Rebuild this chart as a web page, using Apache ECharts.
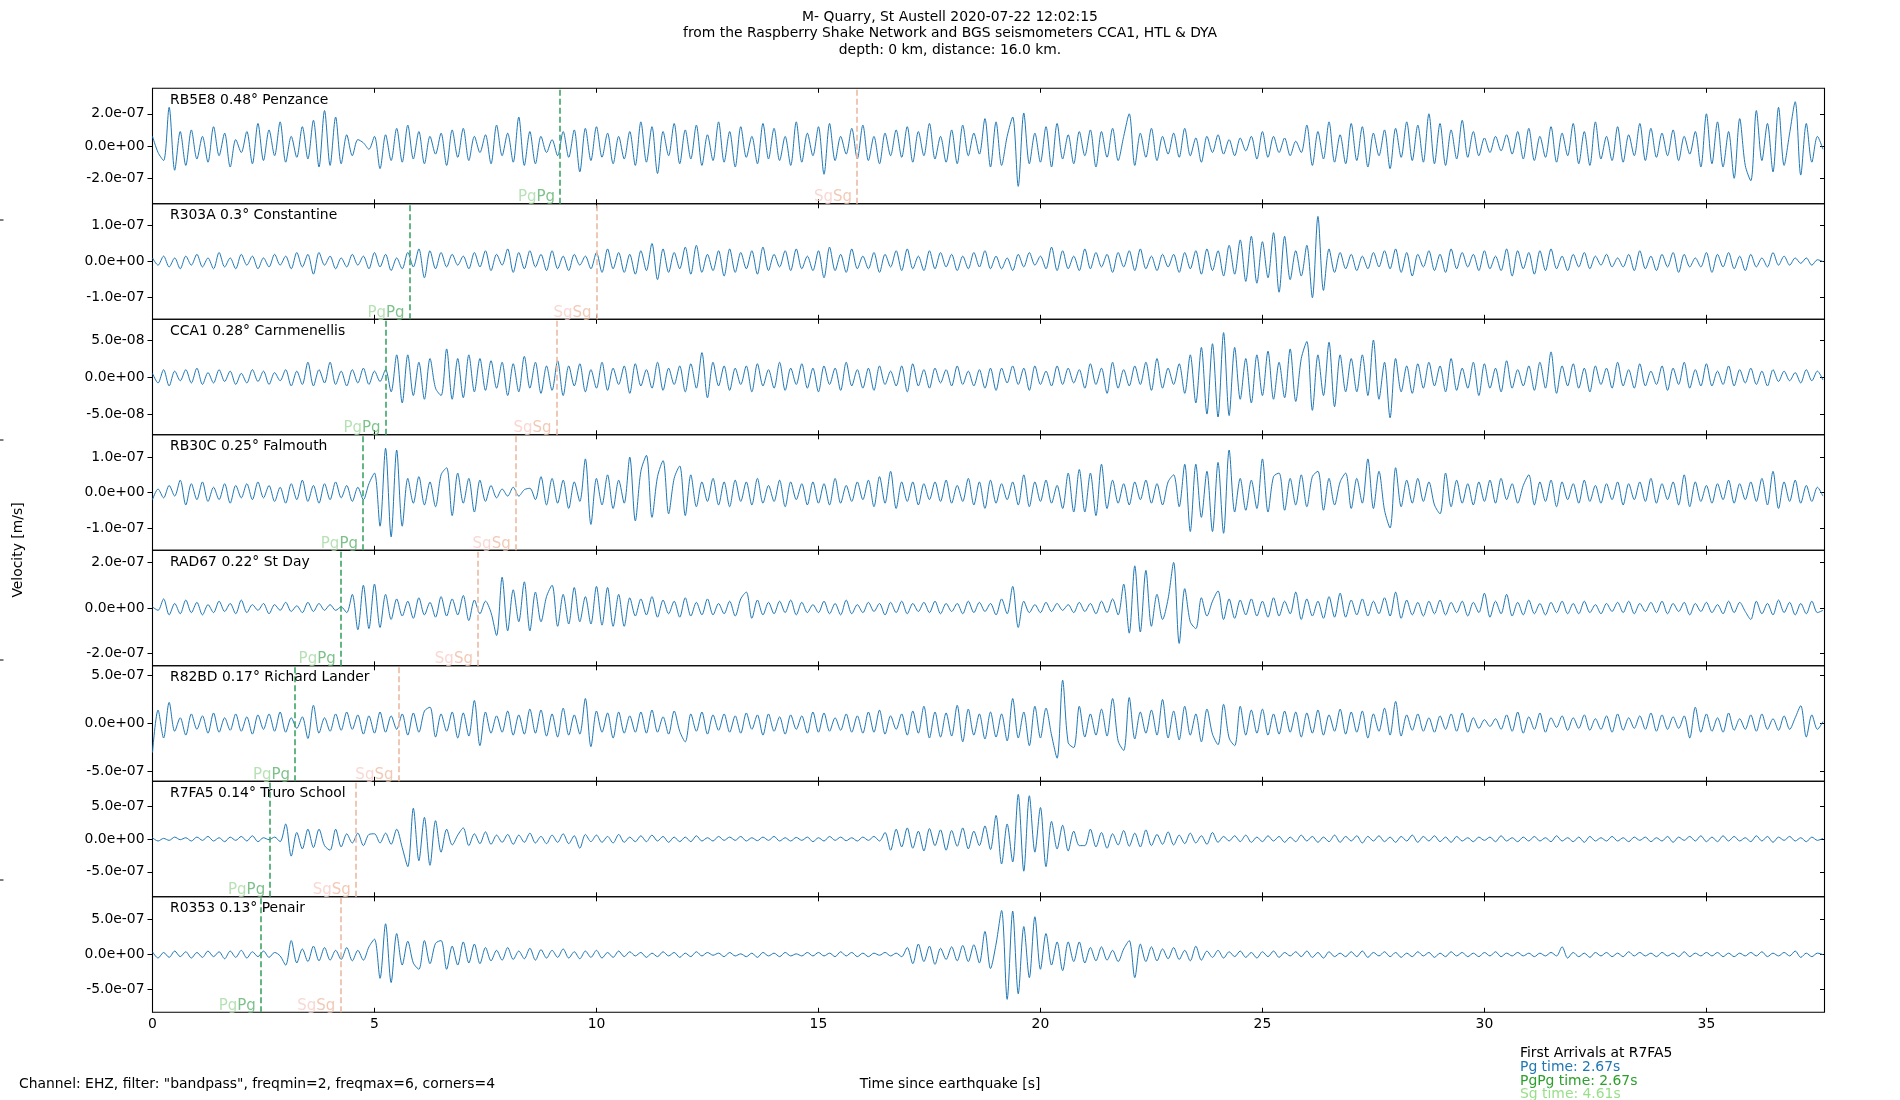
<!DOCTYPE html>
<html>
<head>
<meta charset="utf-8">
<script src="https://cdn.jsdelivr.net/npm/echarts@6/dist/echarts.min.js"></script>
<style>html,body{margin:0;padding:0;background:#fff}#c{width:1900px;height:1100px}</style>
</head>
<body>
<div id="c"></div>
<script>
// ---------- data ----------
const sampleStep = 0.125; // seconds between samples
const xMax = 37.66;
const xTicks = [0, 5, 10, 15, 20, 25, 30, 35];
const stationLabels = ['RB5E8 0.48° Penzance', 'R303A 0.3° Constantine', 'CCA1 0.28° Carnmenellis', 'RB30C 0.25° Falmouth',
  'RAD67 0.22° St Day', 'R82BD 0.17° Richard Lander', 'R7FA5 0.14° Truro School', 'R0353 0.13° Penair'];
const pgPgTimes = [9.18, 5.79, 5.25, 4.74, 4.24, 3.21, 2.65, 2.44];
const sgTimes = [15.87, 10.0, 9.10, 8.18, 7.33, 5.54, 4.58, 4.23];
const yLimits = [3.58e-7, 1.6e-7, 7.8e-8, 1.63e-7, 2.53e-7, 6.0e-7, 8.8e-7, 8.25e-7];
const yTickValues = [[-2e-7, 0, 2e-7], [-1e-7, 0, 1e-7], [-5e-8, 0, 5e-8], [-1e-7, 0, 1e-7],
  [-2e-7, 0, 2e-7], [-5e-7, 0, 5e-7], [-5e-7, 0, 5e-7], [-5e-7, 0, 5e-7]];
const valueUnit = 1e-9; // trace values below are in nm/s

const traceRB5E8 = [
60,-40,-90,240,-150,90,-120,100,
-80,60,-100,120,-60,80,-130,40,
-40,90,-110,140,-90,100,-60,150,
-100,60,-70,120,-80,160,-130,220,
-120,180,-110,70,-60,40,20,-20,
60,-140,70,-90,110,-100,130,-80,
90,-110,60,-50,80,-120,100,-70,
110,-90,60,-40,70,-110,130,-60,
80,-100,180,-120,90,-110,60,-40,
40,-60,90,-70,100,-160,110,-90,
120,-70,80,-110,60,-80,90,-120,
150,-100,120,-170,90,-60,140,-110,
100,-80,130,-120,70,-90,150,-100,
90,-130,120,-70,60,-110,140,-80,
110,-90,60,-120,150,-100,80,-60,
120,-175,140,-90,60,-50,110,-80,
130,-90,60,-110,80,-60,100,-70,
120,-100,90,-60,140,-80,60,-100,
100,-110,130,-60,80,-50,170,-130,
150,-120,60,180,-250,205,-110,80,
-100,120,-130,140,-80,70,-110,90,
-60,100,-130,90,-70,110,-90,60,
200,-120,80,-70,110,-90,60,-50,
80,-70,110,-60,50,-100,60,-40,
70,-50,40,-60,50,-30,60,-80,
90,-70,60,-40,50,-60,30,-40,
130,-120,90,-80,150,-100,70,-110,
140,-90,120,-130,80,-60,100,-140,
110,-70,150,-90,130,-100,200,-110,
140,-120,100,-80,160,-70,90,-60,
50,-40,60,-30,70,-50,90,-80,
110,-90,60,-70,120,-100,80,-60,
140,-110,90,-120,150,-80,60,-90,
120,-100,70,-60,140,-90,110,-70,
80,-60,100,-90,60,-50,90,-130,
200,-110,150,-130,90,-200,170,-120,
-215,220,-90,140,-160,240,-120,80,
275,-180,140,-100,60,-20];

const traceR303A = [
10,-10,15,-15,10,-20,15,-10,
20,-15,10,-20,25,-15,10,-20,
20,-10,15,-20,10,-15,20,-10,
15,-20,25,-15,20,-35,25,-10,
15,-20,10,-15,20,-10,15,-20,
25,-15,20,-25,10,-20,25,-15,
35,-45,30,-20,25,-15,20,-10,
15,-20,25,-15,30,-25,20,-10,
35,-30,25,-20,30,-15,20,-25,
30,-20,15,-25,20,-10,15,-20,
25,-30,35,-20,25,-30,20,-35,
30,-25,50,-50,35,-30,25,-20,
40,-35,45,-30,20,-25,30,-40,
35,-30,25,-20,30,-35,40,-25,
20,-15,30,-25,35,-20,15,-25,
30,-45,40,-25,20,-30,35,-20,
15,-20,25,-30,20,-15,30,-25,
35,-20,15,-25,30,-20,25,-15,
20,-25,15,-20,25,-15,30,-20,
15,-20,10,-25,20,-15,25,-10,
15,-20,40,-25,30,-20,15,-25,
35,-20,25,-15,20,-30,25,-15,
30,-25,35,-20,15,-25,20,-15,
20,-30,25,-20,30,-35,35,-25,
30,-40,45,-35,60,-55,70,-60,
55,-45,80,-85,70,-50,30,-40,
45,-100,125,-80,35,-30,25,-20,
20,-25,15,-20,25,-15,30,-20,
35,-30,25,-40,20,-15,30,-25,
20,-30,35,-20,25,-15,20,-25,
30,-20,15,-25,35,-40,30,-20,
25,-35,30,-25,35,-20,15,-25,
20,-15,25,-20,15,-10,20,-15,
10,-15,20,-25,30,-20,15,-25,
20,-15,25,-30,20,-15,10,-15,
25,-30,20,-15,25,-20,15,-25,
20,-15,10,-15,25,-10,15,-10,
10,-5,10,-10,5,0];

const traceCCA1 = [
5,-8,10,-12,8,-5,10,-8,
12,-10,6,-8,10,-6,8,-10,
5,-8,10,-6,8,-10,6,-5,
10,-12,8,-10,20,-12,10,-8,
20,-10,8,-12,10,-8,12,-10,
8,-6,10,-20,30,-35,30,-25,
20,-30,25,-15,-25,38,-30,25,
-28,30,-20,25,-18,22,-15,20,
-25,18,-20,28,-15,20,-22,15,
-18,22,-25,15,-12,18,-20,10,
-15,20,-18,12,-10,15,-22,18,
-12,10,-15,20,-18,12,-10,15,
-20,18,-15,33,-28,20,-12,15,
-18,12,-10,15,-20,18,-12,10,
-15,20,-18,12,-10,18,-15,12,
-20,15,-10,12,-18,20,-12,10,
-15,12,-18,15,-10,8,-12,15,
-20,18,-12,10,-15,12,-8,10,
-12,15,-10,8,-12,10,-15,12,
-18,12,-8,15,-10,12,-18,15,
-10,8,-12,15,-10,12,-8,10,
-15,18,-10,12,-22,20,-15,10,
-12,15,-10,20,-18,25,-15,12,
-10,18,-22,30,-35,40,-50,45,
-54,60,-52,40,-30,25,-35,30,
-25,35,-30,20,-28,38,-33,25,
48,-45,30,-25,47,-40,30,-20,
25,-20,30,-25,50,-30,20,-55,
25,-20,15,-22,18,-15,20,-12,
15,-20,25,-18,12,-15,20,-25,
18,-15,12,-20,22,-15,10,-12,
15,-18,20,-15,34,-22,15,-12,
18,-15,12,-20,15,-10,12,-15,
20,-12,10,-15,18,-12,8,-10,
15,-18,12,-10,20,-15,10,-12,
18,-12,8,-10,15,-12,10,-8,
12,-10,8,-12,10,-6,8,-5,
6,-8,10,-5,8,-4];

const traceRB30C = [
-20,10,-15,20,-10,35,-35,25,
-20,30,-25,15,-20,25,-30,20,
-15,25,-20,30,-15,20,-25,15,
-30,25,-20,35,-25,20,-30,25,
-20,30,-15,20,-25,15,-20,25,
55,-95,125,-125,120,-95,40,-30,
45,-35,30,-40,50,70,-65,55,
-30,40,-55,35,-25,20,-15,10,
-10,15,-10,8,12,-20,45,-35,
40,-30,35,-45,30,-25,95,-90,
40,-35,50,-45,35,-30,100,-80,
60,105,-70,45,90,-60,40,75,
-65,50,-40,30,-25,40,-35,30,
-40,35,-25,30,-35,40,-30,20,
-25,35,-40,30,-20,25,-35,30,
-30,25,-35,40,-30,20,-25,30,
-20,35,-40,45,-30,60,-45,30,
-25,30,-35,25,-20,30,-25,35,
-30,20,-25,40,-35,30,-45,35,
-30,25,-20,30,-35,50,-40,30,
-25,35,-30,20,-45,55,-55,65,
-55,55,-65,80,-45,35,-30,25,
-35,30,-20,35,-30,25,-35,30,
50,-40,80,-110,80,-70,60,-110,
85,-115,120,-55,40,-50,35,-45,
95,-55,45,55,-50,40,-35,50,
-40,45,60,-50,40,-35,30,55,
-45,40,-30,95,-45,60,-50,-100,
70,-40,35,-30,40,-25,30,-35,
-60,55,-40,35,-30,25,-35,30,
-25,35,-30,40,-20,25,-30,20,
50,-35,30,-25,35,-40,30,-20,
25,-30,35,-25,20,-30,25,-20,
30,-35,25,-20,30,-25,40,-30,
25,-20,30,-35,50,-40,30,-25,
20,-30,25,-20,35,-30,25,-20,
30,-25,40,-35,60,-45,30,-25,
35,-30,20,-25,15,-10];

const traceRAD67 = [
5,-10,40,-30,20,-25,35,-20,
25,-30,15,-20,30,-15,20,-25,
35,-20,15,-10,20,-25,15,-10,
25,-15,10,-20,25,-15,20,-10,
15,-10,5,-20,60,-95,100,-90,
105,-85,60,-50,40,-35,30,-45,
45,-30,25,-40,50,-35,40,-30,
55,-55,35,-25,30,-20,-120,135,
-100,80,-60,115,-100,70,-60,50,
100,-80,60,-70,90,-60,50,-70,
95,-75,90,-80,60,-80,45,-35,
40,-30,50,-40,35,-25,30,-40,
45,-35,25,-30,40,-30,20,-25,
30,-35,40,70,-45,35,-30,25,
-25,30,-20,35,-30,25,-20,15,
-20,30,-25,20,-30,35,-25,15,
-20,25,-15,20,-30,25,-20,30,
-25,20,-15,25,-20,30,-25,20,
-15,20,-25,30,-20,25,-15,20,
-30,40,-25,95,-85,30,-20,15,
-20,25,-15,20,-10,15,-20,25,
-15,20,-25,30,-20,40,-30,105,
-110,185,-105,165,-80,60,-50,40,
200,-155,85,-60,-90,45,-35,30,
75,-50,40,-45,35,-30,40,-35,
30,-40,45,-35,30,-25,70,-50,
40,-35,30,-45,50,-40,65,-40,
35,-30,40,-35,30,-25,45,-35,
70,-45,35,-30,25,-35,30,-25,
35,-30,25,-20,30,-35,25,-20,
65,-40,30,-25,60,-35,25,-30,
35,-25,20,-30,25,-20,30,-25,
20,-25,30,-20,15,-25,20,-15,
25,-20,30,-25,20,-15,25,-20,
30,-25,20,-15,25,-30,20,-15,
25,-20,15,-25,30,-20,25,-15,
-50,30,-25,20,-30,35,-20,25,
-30,20,-25,30,-20,-10];

const traceR82BD = [
-300,140,-150,220,-80,60,-120,100,
-60,80,-100,110,-90,60,-70,100,
-80,70,-110,90,-60,100,-80,120,
-90,60,-50,70,-155,190,-100,60,
-80,100,-70,120,-60,90,-110,80,
-100,120,-90,80,-60,100,-120,110,
-90,130,170,-140,100,-80,120,-150,
110,-130,240,-230,120,-100,80,-90,
130,-120,90,-110,150,-100,140,-130,
100,-140,160,-120,90,-110,260,-240,
130,-90,110,-150,120,-100,80,-90,
120,-100,140,-90,70,-110,130,-80,
-190,100,-80,120,-110,90,-70,100,
-90,80,-100,110,-60,90,-120,100,
-80,70,-110,90,-60,80,-100,120,
-90,110,-80,60,-70,100,-90,80,
-100,120,-90,140,-110,80,-60,100,
-120,130,-100,180,-150,120,-140,110,
-130,190,-190,150,-120,100,-160,120,
-140,100,-180,260,-150,120,-230,180,
-150,160,-120,-360,450,-200,-250,180,
-140,100,-120,150,-130,260,-180,-280,
270,-160,120,-100,140,-120,250,-150,
130,-170,180,-120,100,-190,150,-110,
-220,200,-150,-230,180,-120,140,-100,
150,-120,100,-110,130,-90,120,-140,
110,-100,140,-120,90,-80,150,-110,
120,-90,130,-150,100,-80,160,-120,
230,-130,90,-70,100,-80,60,-90,
80,-60,100,-80,110,-90,60,-50,
40,-30,50,-60,90,-80,120,-100,
70,-60,110,-90,60,-40,80,-70,
60,-50,90,-70,50,-60,80,-90,
100,-70,60,-50,80,-60,110,-80,
90,-60,70,-50,80,-150,170,-90,
100,-80,60,-90,110,-70,50,-60,
90,-80,100,-60,50,-70,80,-60,
60,185,-140,90,-60,20];

const traceR7FA5 = [
20,-30,10,-20,30,-10,20,-30,
30,-20,40,-30,20,-40,30,-20,
40,-30,50,-40,20,-10,30,-40,
230,-260,100,-150,150,-130,150,-100,
-170,150,-120,80,-60,90,-100,70,
80,-60,90,-80,150,-130,-420,470,
-330,330,-400,280,-200,150,-90,60,
170,-100,80,-70,110,-80,60,-50,
70,-80,60,-50,90,-60,40,-70,
60,-50,80,-70,50,-140,70,-40,
60,-50,40,-60,70,-50,30,-40,
50,-40,60,-30,40,-50,30,-40,
30,-40,50,-30,20,-30,40,-20,
30,-20,40,-30,20,-25,30,-20,
40,-30,20,-30,25,-20,30,-40,
20,-30,40,-20,30,-25,20,-30,
30,-20,40,-30,100,-170,150,-120,
170,-140,120,-180,160,-100,140,-170,
130,-110,170,-150,120,-100,200,-160,
360,-380,230,-350,680,-490,660,-200,
480,-420,270,-150,210,-180,120,-100,
-100,150,-120,100,-140,80,-90,130,
-110,90,-120,140,-100,70,-80,110,
-90,60,-70,90,-60,50,-80,100,
-50,40,-30,50,-40,60,-50,30,
-40,50,-30,40,-50,30,-40,60,
-30,40,-50,30,-40,60,-50,40,
-30,50,-60,40,-30,50,-40,30,
-50,40,-30,60,-50,40,-30,50,
-40,30,-50,40,-30,20,-40,30,
-20,30,-40,50,-30,20,-40,30,
-30,40,-30,20,-40,50,-30,20,
-40,30,-50,40,-30,20,-30,40,
-30,20,-40,30,-20,30,-40,20,
-30,40,-50,30,-20,40,-30,50,
-40,30,-40,50,-30,40,-30,20,
-40,50,-30,40,-50,30,-20,40,
-30,20,-40,30,-20,10];

const traceR0353 = [
40,-50,30,-40,50,-30,40,-50,
30,-40,50,-30,40,-60,50,-40,
60,-50,40,-30,50,-40,30,-20,
-150,200,-120,80,-100,120,-90,100,
-80,60,-70,100,-90,60,-80,110,
220,-340,440,-400,300,-150,190,-120,
-210,200,-130,160,200,-210,120,-150,
180,-120,150,-130,100,-90,60,-80,
100,-70,50,-60,90,-80,70,-50,
60,-40,80,-50,40,-60,50,-40,
60,-50,30,-40,50,-30,40,-20,
30,-40,20,-30,40,-20,30,-40,
20,-30,40,-20,30,-10,20,-30,
30,-20,10,-30,20,-40,30,-20,
20,-30,30,-20,10,-20,30,-20,
30,-20,20,-30,40,-20,30,-30,
20,-30,20,-10,30,-20,20,-30,
100,-130,150,-100,120,-140,90,-70,
110,-90,130,-100,140,-120,330,-200,
150,630,-640,620,-560,400,-330,540,
-210,300,-150,180,-230,180,-100,180,
-120,100,-90,110,-80,60,-100,80,
200,-330,150,-100,110,-90,80,-60,
100,-70,60,-90,120,-80,50,-40,
60,-50,40,-30,50,-40,30,-50,
40,-30,50,-40,30,-20,40,-30,
50,-40,30,-50,40,-30,20,-30,
40,-30,50,-40,30,-20,40,-30,
30,-40,20,-30,40,-20,30,-40,
20,-30,40,-20,30,-30,20,-30,
30,-20,40,-30,20,-20,30,-20,
20,-30,20,-20,30,-20,110,-50,
30,-30,20,-40,30,-20,30,-30,
20,-30,40,-20,30,-20,20,-30,
30,-20,20,-30,40,-30,20,-20,
30,-20,30,-30,20,-30,20,-20,
30,-20,40,-30,20,-20,30,-20,
50,-40,20,-30,20,0];

const traces = [traceRB5E8, traceR303A, traceCCA1, traceRB30C, traceRAD67, traceR82BD, traceR7FA5, traceR0353];

// ---------- layout / style ----------
const FONT = 'DejaVu Sans';
const plotLeft = 152.5, plotWidth = 1672, plotTop = 88.3, panelH = 115.5;
const C_TRACE = '#1f77b4', C_PG_LINE = '#3ea567', C_SG_LINE = '#ecbba3';

function sci(v) {
  if (Math.abs(v) < 1e-20) return '0.0e+00';
  let e = Math.floor(Math.log10(Math.abs(v)) + 1e-9);
  let m = v / Math.pow(10, e);
  let ms = m.toFixed(1);
  if (Math.abs(parseFloat(ms)) >= 10) { e += 1; ms = (v / Math.pow(10, e)).toFixed(1); }
  return ms + 'e' + (e < 0 ? '-' : '+') + String(Math.abs(e)).padStart(2, '0');
}

const grids = [], xAxes = [], yAxes = [], series = [], titles = [];
titles.push({
  left: 950, top: 9, padding: 0, textAlign: 'center',
  text: 'M- Quarry, St Austell 2020-07-22 12:02:15\nfrom the Raspberry Shake Network and BGS seismometers CCA1, HTL & DYA\ndepth: 0 km, distance: 16.0 km.',
  textStyle: { fontFamily: FONT, fontSize: 13.9, fontWeight: 'normal', color: '#000', lineHeight: 16.4 }
});

for (let i = 0; i < 8; i++) {
  const top = plotTop + i * panelH;
  const lim = yLimits[i];
  const last = i === 7;
  grids.push({ left: plotLeft, width: plotWidth, top: top, height: panelH, show: true, borderColor: '#000', borderWidth: 1.1, backgroundColor: 'transparent' });
  xAxes.push({
    type: 'value', gridIndex: i, min: 0, max: xMax, interval: 5, position: 'bottom',
    axisLine: { show: false, onZero: false }, splitLine: { show: false },
    axisTick: { show: true, inside: true, length: 4.5, lineStyle: { color: '#000', width: 1 } },
    axisLabel: { show: last, margin: 5, color: '#000', fontFamily: FONT, fontSize: 13.9, showMaxLabel: false, formatter: v => String(v) }
  });
  xAxes.push({
    type: 'value', gridIndex: i, min: 0, max: xMax, interval: 5, position: 'top',
    axisLine: { show: false, onZero: false }, splitLine: { show: false },
    axisTick: { show: true, inside: true, length: 4.5, lineStyle: { color: '#000', width: 1 } },
    axisLabel: { show: false }
  });
  yAxes.push({
    type: 'value', gridIndex: i, min: -lim, max: lim, position: 'left',
    axisLine: { show: false, onZero: false }, splitLine: { show: false },
    axisTick: { show: true, inside: false, length: 5, customValues: yTickValues[i], lineStyle: { color: '#000', width: 1 } },
    axisLabel: { show: true, margin: 8, customValues: yTickValues[i], color: '#000', fontFamily: FONT, fontSize: 13.9, formatter: sci }
  });
  yAxes.push({
    type: 'value', gridIndex: i, min: -lim, max: lim, position: 'right',
    axisLine: { show: false, onZero: false }, splitLine: { show: false },
    axisTick: { show: true, inside: true, length: 4.5, customValues: yTickValues[i], lineStyle: { color: '#000', width: 1 } },
    axisLabel: { show: false }
  });

  const data = traces[i].map((v, k) => [k * sampleStep, v * valueUnit]);
  series.push({
    type: 'line', xAxisIndex: 2 * i, yAxisIndex: 2 * i, data: data,
    showSymbol: false, smooth: 0.3, lineStyle: { color: C_TRACE, width: 1 }, silent: true,
    markLine: {
      silent: true, symbol: ['none', 'none'], label: { show: false },
      data: [
        { xAxis: pgPgTimes[i], lineStyle: { color: C_PG_LINE, type: [6, 3], width: 1.6 } },
        { xAxis: sgTimes[i], lineStyle: { color: C_SG_LINE, type: [6, 3], width: 1.6 } }
      ]
    },
    z: 3
  });
  series.push({
    type: 'scatter', xAxisIndex: 2 * i, yAxisIndex: 2 * i, symbolSize: 0, silent: true,
    data: [
      { value: [pgPgTimes[i], -lim], label: { formatter: '{a|Pg}{b|Pg}' } },
      { value: [sgTimes[i], -lim], label: { formatter: '{c|Sg}{d|Sg}' } }
    ],
    label: {
      show: true, position: [0, 0], align: 'right', verticalAlign: 'bottom', offset: [-5, 1],
      rich: {
        a: { color: '#a5d9a2', fontFamily: FONT, fontSize: 15 },
        b: { color: '#5cb26d', fontFamily: FONT, fontSize: 15 },
        c: { color: '#f7cdc8', fontFamily: FONT, fontSize: 15 },
        d: { color: '#eebba3', fontFamily: FONT, fontSize: 15 }
      }
    },
    z: 4
  });
  titles.push({
    left: 170, top: top + 5, padding: 0, text: stationLabels[i],
    textStyle: { fontFamily: FONT, fontSize: 13.9, fontWeight: 'normal', color: '#000' }
  });
}

titles.push({
  left: 19, top: 1077, padding: 0, text: 'Channel: EHZ, filter: "bandpass", freqmin=2, freqmax=6, corners=4',
  textStyle: { fontFamily: FONT, fontSize: 13.9, fontWeight: 'normal', color: '#000' }
});
titles.push({
  left: 950, top: 1077, padding: 0, textAlign: 'center', text: 'Time since earthquake [s]',
  textStyle: { fontFamily: FONT, fontSize: 13.9, fontWeight: 'normal', color: '#000' }
});
titles.push({
  left: 1520, top: 1047, padding: 0,
  text: '{k|First Arrivals at R7FA5}\n{p|Pg time: 2.67s}\n{g|PgPg time: 2.67s}\n{s|Sg time: 4.61s}',
  textStyle: {
    fontFamily: FONT, fontSize: 13.9, fontWeight: 'normal', lineHeight: 13.6,
    rich: {
      k: { color: '#000', fontFamily: FONT, fontSize: 13.9, lineHeight: 13.6 },
      p: { color: '#1f77b4', fontFamily: FONT, fontSize: 13.9, lineHeight: 13.6 },
      g: { color: '#2ca02c', fontFamily: FONT, fontSize: 13.9, lineHeight: 13.6 },
      s: { color: '#98df8a', fontFamily: FONT, fontSize: 13.9, lineHeight: 13.6 }
    }
  }
});

const chart = echarts.init(document.getElementById('c'), null, { renderer: 'canvas' });
chart.setOption({
  backgroundColor: '#fff',
  animation: false,
  title: titles,
  grid: grids,
  xAxis: xAxes,
  yAxis: yAxes,
  series: series,
  graphic: [
    { type: 'text', x: 18, y: 550, rotation: Math.PI / 2,
      style: { text: 'Velocity [m/s]', fontFamily: FONT, fontSize: 13.9, fill: '#000', align: 'center', verticalAlign: 'middle' } },
    { type: 'line', shape: { x1: 0, y1: 220, x2: 3.5, y2: 220 }, style: { stroke: '#000', lineWidth: 1 } },
    { type: 'line', shape: { x1: 0, y1: 440, x2: 3.5, y2: 440 }, style: { stroke: '#000', lineWidth: 1 } },
    { type: 'line', shape: { x1: 0, y1: 660, x2: 3.5, y2: 660 }, style: { stroke: '#000', lineWidth: 1 } },
    { type: 'line', shape: { x1: 0, y1: 880, x2: 3.5, y2: 880 }, style: { stroke: '#000', lineWidth: 1 } }
  ]
});
</script>
</body>
</html>
